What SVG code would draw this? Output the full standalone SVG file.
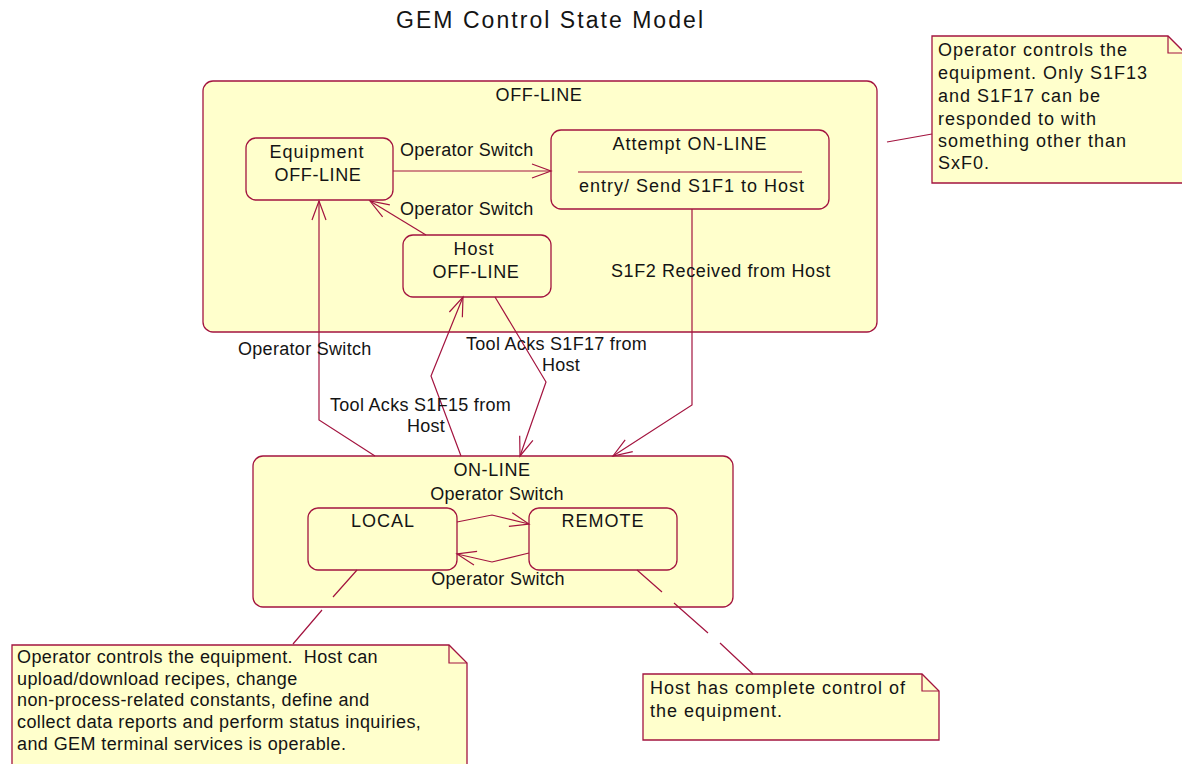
<svg xmlns="http://www.w3.org/2000/svg" width="1182" height="764" viewBox="0 0 1182 764">
  <style>
    .st { fill: #FFFFCC; stroke: #A3143F; stroke-width: 1.3; }
    .ln { fill: none; stroke: #A3143F; stroke-width: 1.2; }
    text { font-family: "Liberation Sans", Arial, sans-serif; font-size: 18px; fill: #141414; white-space: pre; letter-spacing: 0.3px; }
    .mid { text-anchor: middle; }
    .title { font-size: 23px; letter-spacing: 0; }
    .wide { letter-spacing: 1px; }
    .mwide { letter-spacing: 0.6px; }
    .note-s { letter-spacing: 0.4px; }
  </style>
  <defs>
    <marker id="arrow" viewBox="-22 -10 24 20" refX="0" refY="0" markerWidth="24" markerHeight="20" markerUnits="userSpaceOnUse" orient="auto" overflow="visible">
      <path d="M-19,-7 L0,0 L-19,7" fill="none" stroke="#A3143F" stroke-width="1.2"/>
    </marker>
  </defs>

  <rect width="1182" height="764" fill="#FFFFFF"/>

  <text class="title mid" x="549.5" y="28" textLength="307" lengthAdjust="spacing">GEM Control State Model</text>

  <!-- composite states -->
  <g id="offline">
    <rect class="st" x="203" y="81" width="674" height="251" rx="10"/>
    <text class="mid mwide" x="539" y="101">OFF-LINE</text>
  </g>
  <g id="online">
    <rect class="st" x="253" y="456" width="480" height="151" rx="10"/>
    <text class="mid mwide" x="492" y="476">ON-LINE</text>
  </g>

  <!-- simple states -->
  <g id="equipment-offline">
    <rect class="st" x="246" y="138" width="147" height="62" rx="10"/>
    <text class="mid wide" x="317" y="158">Equipment</text>
    <text class="mid mwide" x="318" y="181">OFF-LINE</text>
  </g>
  <g id="attempt-online">
    <rect class="st" x="551" y="130" width="278" height="79" rx="10"/>
    <text class="mid wide" x="690" y="150">Attempt ON-LINE</text>
    <line class="ln" x1="578" y1="172" x2="802" y2="172"/>
    <text class="mid wide" x="692" y="192">entry/ Send S1F1 to Host</text>
  </g>
  <g id="host-offline">
    <rect class="st" x="403" y="235" width="148" height="62" rx="10"/>
    <text class="mid wide" x="474" y="255">Host</text>
    <text class="mid mwide" x="476" y="278">OFF-LINE</text>
  </g>
  <g id="local">
    <rect class="st" x="308" y="508" width="149" height="62" rx="10"/>
    <text class="mid wide" x="383" y="527">LOCAL</text>
  </g>
  <g id="remote">
    <rect class="st" x="529" y="508" width="148" height="62" rx="10"/>
    <text class="mid wide" x="603" y="527">REMOTE</text>
  </g>

  <!-- notes -->
  <g id="note-offline">
    <path class="st" d="M932,36 L1168,36 L1185,53 L1185,183 L932,183 Z"/>
    <path class="ln" d="M1168,36 L1168,53 L1185,53"/>
    <text class="wide" x="938" y="56">Operator controls the</text>
    <text class="wide" x="938" y="79">equipment. Only S1F13</text>
    <text class="wide" x="938" y="102">and S1F17 can be</text>
    <text class="wide" x="938" y="125">responded to with</text>
    <text class="wide" x="938" y="147">something other than</text>
    <text class="wide" x="938" y="169">SxF0.</text>
  </g>
  <g id="note-local">
    <path class="st" d="M12,645 L449,645 L467,663 L467,775 L12,775 Z"/>
    <path class="ln" d="M449,645 L449,663 L467,663"/>
    <text class="note-s" x="17" y="663">Operator controls the equipment.  Host can</text>
    <text class="note-s" x="17" y="685">upload/download recipes, change</text>
    <text class="note-s" x="17" y="706">non-process-related constants, define and</text>
    <text class="note-s" x="17" y="728">collect data reports and perform status inquiries,</text>
    <text class="note-s" x="17" y="750">and GEM terminal services is operable.</text>
  </g>
  <g id="note-remote">
    <path class="st" d="M643,674 L922,674 L939,691 L939,740 L643,740 Z"/>
    <path class="ln" d="M922,674 L922,691 L939,691"/>
    <text class="wide" x="650" y="694">Host has complete control of</text>
    <text class="wide" x="650" y="717">the equipment.</text>
  </g>

  <!-- transitions and note anchors -->
  <g id="connectors">
    <path class="ln" d="M393,171 L551,171" marker-end="url(#arrow)"/>
    <path class="ln" d="M426,235 L370,201" marker-end="url(#arrow)"/>
    <path class="ln" d="M375,456 L319,420 L319,201" marker-end="url(#arrow)"/>
    <path class="ln" d="M461,456 L431,376 L463,297" marker-end="url(#arrow)"/>
    <path class="ln" d="M495,297 L546,382 L520,456" marker-end="url(#arrow)"/>
    <path class="ln" d="M692,209 L692,405 L613,456" marker-end="url(#arrow)"/>
    <path class="ln" d="M457,522 L492,515 L529,524" marker-end="url(#arrow)"/>
    <path class="ln" d="M529,553 L492,562 L457,554" marker-end="url(#arrow)"/>

    <path class="ln" d="M887,142 L932,134"/>
    <path class="ln" d="M357,570 L333,597 M322,610 L293,644"/>
    <path class="ln" d="M637,570 L662,592 M674,603 L708,633 M720,643 L753,674"/>
  </g>

  <!-- transition labels -->
  <g id="labels">
    <text x="400" y="156">Operator Switch</text>
    <text x="400" y="215">Operator Switch</text>
    <text x="238" y="355">Operator Switch</text>
    <text x="466" y="350">Tool Acks S1F17 from</text>
    <text class="mid" x="561" y="371">Host</text>
    <text x="330" y="411">Tool Acks S1F15 from</text>
    <text class="mid" x="426" y="432">Host</text>
    <text class="mwide" x="611" y="277">S1F2 Received from Host</text>
    <text class="mid" x="497" y="500">Operator Switch</text>
    <text class="mid" x="498" y="585">Operator Switch</text>
  </g>
</svg>
